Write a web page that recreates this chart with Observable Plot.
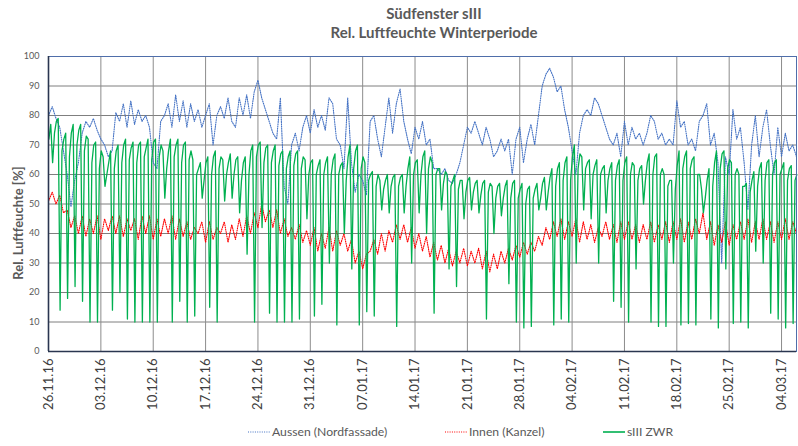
<!DOCTYPE html>
<html>
<head>
<meta charset="utf-8">
<script src="https://cdn.jsdelivr.net/npm/d3@7"></script>
<script src="https://cdn.jsdelivr.net/npm/@observablehq/plot@0.6"></script>
<style>
  html, body { margin: 0; padding: 0; background: #fff; }
  #wrap { position: relative; width: 798px; height: 446px; overflow: hidden; font-family: Lato, "Open Sans", sans-serif; color: #595959; }
  .title { position: absolute; left: 434px; transform: translateX(-50%); white-space: nowrap; font-size: 15px; font-weight: bold; color: #595959; }
  #ylabel { position: absolute; left: 18px; top: 223px; transform: translate(-50%, -50%) rotate(-90deg); white-space: nowrap; font-size: 13px; font-weight: bold; color: #595959; }
  #legend { position: absolute; top: 424px; left: 0; width: 798px; height: 16px; }
  .lg { position: absolute; top: 0; display: flex; align-items: center; font-size: 12.2px; color: #595959; white-space: nowrap; }
  .lg svg { margin-right: 2px; }
  #chart { position: absolute; left: 0; top: 0; }
</style>
</head>
<body>
<div id="wrap">
  <div id="chart"></div>
  <div class="title" id="t1" style="top:4px"></div>
  <div class="title" id="t2" style="top:23px"></div>
  <div id="ylabel"></div>
  <div id="legend"></div>
</div>
<script>
// ---------- texts ----------
const titleLine1 = "Südfenster sIII";
const titleLine2 = "Rel. Luftfeuchte Winterperiode";
const yAxisLabel = "Rel. Luftfeuchte [%]";

// ---------- axes ----------
const xTickLabels = ["26.11.16","03.12.16","10.12.16","17.12.16","24.12.16","31.12.16","07.01.17",
  "14.01.17","21.01.17","28.01.17","04.02.17","11.02.17","18.02.17","25.02.17","04.03.17"];
const periodStart = "26.11.16";
const periodEnd = "06.03.17";
const yTicks = [0, 10, 20, 30, 40, 50, 60, 70, 80, 90, 100];

// ---------- series ----------
const seriesNames = ["Aussen (Nordfassade)", "Innen (Kanzel)", "sIII ZWR"];
const seriesColors = ["#4472c4", "#ff0000", "#00b050"];

// Aussen: one value every 12 h starting 26.11.16 00:00
const aussenStepHours = 12;
const aussen = [
  80,83, 79,76, 68,60, 49,58, 64,74, 78,76, 79,75, 72,70, 66,68, 81,78,
  84,76, 85,77, 82,78, 80,76, 64,62, 78,80, 84,76, 87,78, 85,76, 84,78,
  82,76, 80,84, 70,80, 83,79, 86,78, 76,86, 80,87, 79,88, 92,86, 82,78,
  74,72, 86,56, 50,70, 74,68, 76,80, 74,82, 76,80, 75,86, 84,72, 70,62,
  86,64, 54,60, 58,53, 78,80, 72,66, 76,86, 74,84, 89,78, 72,67, 76,72,
  78,70, 72,62, 62,60, 62,58, 57,60, 64,70, 76,74, 78,74, 70,76, 72,66,
  68,72, 68,72, 60,72, 76,64, 72,77, 70,80, 90,94, 96,93, 88,90, 82,76,
  68,60, 74,80, 82,80, 86,84, 80,76, 72,70, 74,66, 78,70, 76,72, 74,70,
  74,80, 78,72, 74,70, 72,70, 85,76, 78,70, 72,68, 78,80, 84,70, 74,64,
  30,66, 60,82, 72,76, 64,48, 70,80, 66,76, 82,70, 60,76, 66,74, 68,70,
  66
];

// Innen: one value every 12 h starting 26.11.16 00:00
const innenStepHours = 12;
const innen = [
  51,54, 50,53, 47,48, 42,46, 40,46, 39,45, 40,46, 38,45, 41,46, 40,46,
  39,45, 41,45, 38,46, 40,46, 38,45, 39,45, 40,46, 38,45, 39,44, 38,42,
  40,44, 37,44, 38,42, 40,44, 37,43, 38,45, 39,46, 40,47, 42,50, 44,48,
  42,48, 40,45, 39,42, 38,43, 37,41, 36,42, 34,40, 35,42, 34,41, 36,40,
  34,38, 30,34, 28,33, 34,38, 33,40, 34,41, 37,43, 38,43, 37,42, 35,40,
  34,39, 32,37, 31,36, 30,35, 29,34, 30,35, 29,34, 30,35, 28,34, 27,33,
  28,34, 30,35, 31,36, 32,37, 33,37, 34,39, 36,42, 38,44, 39,45, 38,44,
  39,45, 37,44, 38,43, 37,42, 39,44, 38,43, 37,44, 38,44, 38,43, 37,43,
  38,44, 37,43, 38,44, 37,44, 38,45, 37,44, 38,45, 40,47, 38,44, 36,43,
  37,44, 36,43, 38,44, 38,45, 37,44, 38,45, 38,44, 37,44, 38,45, 38,44,
  40
];

// sIII ZWR: one value every 6 h starting 26.11.16 01:12
const zwrStepHours = 6;
const zwrOffsetHours = 1.2;
const zwr = [
  72,77,64,74,  78,79,14,68,  72,74,18,66,  74,77,22,70,  75,77,17,68,
  73,72,10,64,  70,71,10,62,  68,66,56,60,  64,68,14,62,  68,70,20,64,
  70,72,11,65,  69,71,10,64,  70,71,10,66,  69,72,10,65,  71,72,10,66,
  70,68,52,62,  68,72,10,66,  70,72,17,64,  70,71,10,65,  68,65,12,60,
  62,64,52,58,  64,66,15,60,  66,68,10,62,  66,65,51,60,  64,67,52,60,
  65,66,47,58,  64,66,33,60,  68,70,10,66,  70,71,42,64,  69,70,13,64,
  68,70,10,63,  67,68,10,62,  66,68,10,63,  67,68,11,62,  66,65,45,60,
  64,65,12,60,  63,65,16,60,  64,66,30,60,  65,67,9,60,   63,64,40,58,
  66,70,28,62,  68,70,9,62,   66,64,13.5,58, 60,61,12,56, 60,58,48,55,
  58,60,47,56,  59,60,8.5,56, 59,60,47,56,  62,66,30,60,  64,65,47,60,
  66,68,40,62,  66,64,13,60,  62,62,48,57,  61,60,28,56,  58,60,22,55,
  58,58,45,54,  58,59,48,54,  57,58,47,53,  57,58,11,54,  57,56,40,52,
  56,57,46,52,  56,58,23,52,  57,58,10,52,  55,57,8,50,   55,56,8.5,52,
  55,57,48,52,  57,59,48,54,  59,62,9,56,   62,64,11,58,  64,66,10,58,
  66,70,30,62,  67,66,48,62,  64,65,45,60,  63,65,30,60,  62,63,47,58,
  62,64,17,58,  63,65,15,58,  64,66,10,60,  64,63,28,58,  62,63,50,58,
  64,67,10,60,  66,67,8.5,60, 62,60,8.5,56, 58,58,30,55,  63,68,9,62,
  66,68,9.5,62, 65,66,9,60,   60,55,47,52,  58,62,11,56,  64,68,8,62,
  67,68,28,62,  65,64,9.5,60, 62,60,10,56,  56,57,8,54,   58,61,34,56,
  62,64,30,58,  64,65,13,60,  64,65,11,60,  62,64,8,58,   62,63,9.5,58,
  60
];

// ---------- build ----------
const parseDay = d3.utcParse("%d.%m.%y");
const fmtDay = d3.utcFormat("%d.%m.%y");
const xTicks = xTickLabels.map(parseDay);
const x0 = parseDay(periodStart), x1 = parseDay(periodEnd);
const H = 3600 * 1000;
const mk = (arr, stepH, offH = 0) => arr.map((v, i) => ({t: new Date(+x0 + (i * stepH + offH) * H), v}));
const aussenData = mk(aussen, aussenStepHours);
const innenData = mk(innen, innenStepHours);
const zwrData = mk(zwr, zwrStepHours, zwrOffsetHours);

const chart = Plot.plot({
  width: 798,
  height: 446,
  marginTop: 56,
  marginBottom: 95,
  marginLeft: 48,
  marginRight: 2,
  style: {fontFamily: "Lato, 'Open Sans', sans-serif", background: "transparent", color: "#595959"},
  x: {type: "utc", domain: [x0, x1]},
  y: {domain: [0, 100]},
  marks: [
    Plot.gridY(yTicks, {stroke: "#7f7f7f", strokeOpacity: 1}),
    Plot.gridX(xTicks, {stroke: "#8c8c8c", strokeOpacity: 1}),
    Plot.line(aussenData, {x: "t", y: "v", stroke: seriesColors[0], strokeWidth: 1.1, strokeDasharray: "1,1.3"}),
    Plot.line(innenData, {x: "t", y: "v", stroke: seriesColors[1], strokeWidth: 1.1, strokeDasharray: "1,1.3"}),
    Plot.line(zwrData, {x: "t", y: "v", stroke: seriesColors[2], strokeWidth: 1.3}),
    Plot.frame({stroke: "#4f6eaa"}),
    Plot.ruleY([0], {stroke: "#2a3650", strokeWidth: 1.6}),
    Plot.ruleX([x0], {stroke: "#2a3650", strokeWidth: 1.6}),
    Plot.axisY({ticks: yTicks, tickSize: 0, tickPadding: 9, fontSize: 9, fill: "#595959", label: null}),
    Plot.axisX({ticks: xTicks, tickFormat: fmtDay, tickRotate: -90, tickSize: 0, tickPadding: 7, fontSize: 13, fill: "#404040", label: null})
  ]
});
document.getElementById("chart").appendChild(chart);

document.getElementById("t1").textContent = titleLine1;
document.getElementById("t2").textContent = titleLine2;
document.getElementById("ylabel").textContent = yAxisLabel;

// legend
const legendX = [248, 445, 603];
const legend = document.getElementById("legend");
seriesNames.forEach((name, i) => {
  const item = document.createElement("div");
  item.className = "lg";
  item.style.left = legendX[i] + "px";
  const dash = i < 2 ? "1,1.3" : null;
  item.innerHTML = `<svg width="22" height="12"><line x1="0" x2="22" y1="6" y2="6" stroke="${seriesColors[i]}" stroke-width="${i < 2 ? 1.1 : 1.6}" ${dash ? `stroke-dasharray="${dash}"` : ""}/></svg><span></span>`;
  item.querySelector("span").textContent = name;
  legend.appendChild(item);
});
</script>
</body>
</html>
